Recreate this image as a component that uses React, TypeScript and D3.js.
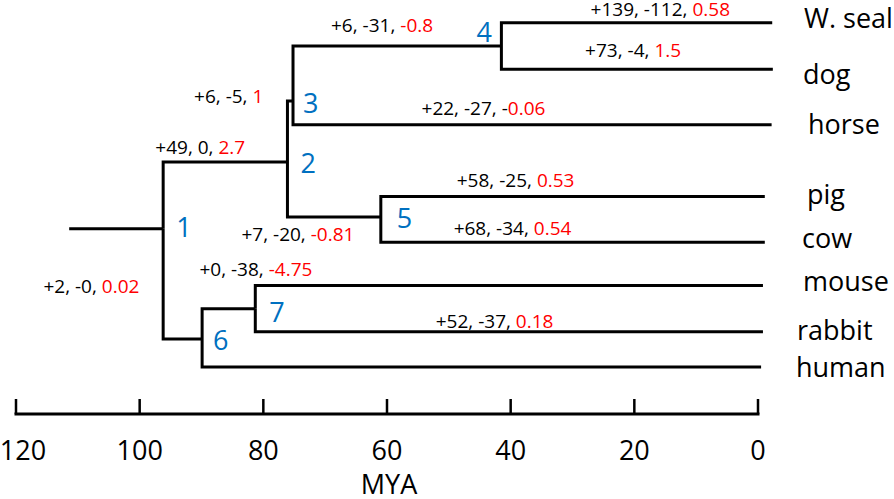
import React from "react";
import * as d3 from "d3";

// ---------- data ----------
const MYA_TICKS = [120, 100, 80, 60, 40, 20, 0];

const ROOT_AGE = 111.4;
const NODE_IDS = ["n1", "n2", "n3", "n4", "n5", "n6", "n7"];
const NODE_LABELS = ["1", "2", "3", "4", "5", "6", "7"];
const NODE_PARENTS = ["root", "n1", "n2", "n3", "n2", "n1", "n6"];
const NODE_AGES = [96.2, 76.1, 75.2, 41.5, 61.0, 89.9, 81.3];
const NODE_ROWS = [4.42, 2.99, 1.68, 0.5, 4.17, 6.79, 6.14];

const LEAF_NAMES = ["W. seal", "dog", "horse", "pig", "cow", "mouse", "rabbit", "human"];
const LEAF_PARENTS = ["n4", "n4", "n3", "n5", "n5", "n7", "n7", "n6"];
const LEAF_TIP_AGES = [-2.3, -2.4, -2.2, -1.1, -1.1, -0.8, -0.8, -0.5];
const LEAF_ROWS = [0, 1, 2.19, 3.73, 4.71, 5.64, 6.63, 7.39];

const ANNOT_GAIN = ["+49", "+2", "+6", "+7", "+6", "+22", "+139", "+73", "+58", "+68", "+0", "+52"];
const ANNOT_LOSS = ["0", "-0", "-5", "-20", "-31", "-27", "-112", "-4", "-25", "-34", "-38", "-37"];
const ANNOT_SCORE = ["2.7", "0.02", "1", "-0.81", "-0.8", "-0.06", "0.58", "1.5", "0.53", "0.54", "-4.75", "0.18"];

// ---------- layout (positions / styles) ----------
const ANNOT_AT_MYA = [90.2, 107.8, 85.6, 74.4, 60.8, 44.4, 15.8, 20.2, 39.2, 39.7, 81.2, 42.6];
const ANNOT_AT_ROW = [2.818, 5.807, 1.717, 4.678, 0.206, 1.981, -0.14, 0.742, 3.519, 4.556, 5.436, 6.558];
const ANNOT_BLACK_SIGN = [false, false, false, false, false, true, false, false, false, false, false, false];
const NODE_LABEL_DX = [13, 13, 10, -25, 16, 11, 14];
const NODE_LABEL_DY = [8, 11, 12, -4, 11, 11, 12.7];
const LEAF_LABEL_X = [804, 803, 808, 807, 802, 803, 797, 796];
const LEAF_LABEL_DY = [5.6, 14.7, 9.3, 7.7, 5.7, 5.3, 8.6, 10.4];
const TICK_LABEL_DX = [7, 0, 0, 0, 0, 0, 0];

const W = 894;
const H = 499;
const FONT = "'Open Sans', 'Liberation Sans', sans-serif";
const BLUE = "#0070C0";
const RED = "#FF0000";

export default function App() {
  const x = d3.scaleLinear().domain([120, 0]).range([16, 758]);
  const y = d3.scaleLinear().domain([0, 1]).range([22.7, 69.3]);
  const axisY = 414;

  const nodePos: Record<string, { x: number; y: number }> = {};
  NODE_IDS.forEach((id, i) => {
    nodePos[id] = { x: x(NODE_AGES[i]), y: y(NODE_ROWS[i]) };
  });

  const paths: string[] = [];
  // root stem
  paths.push(`M${x(ROOT_AGE)},${nodePos["n1"].y}H${nodePos["n1"].x}`);
  NODE_IDS.forEach((id, i) => {
    const p = NODE_PARENTS[i];
    if (p === "root") return;
    const pp = nodePos[p];
    const c = nodePos[id];
    paths.push(`M${pp.x},${pp.y}V${c.y}H${c.x}`);
  });
  LEAF_NAMES.forEach((_, i) => {
    const pp = nodePos[LEAF_PARENTS[i]];
    const cy = y(LEAF_ROWS[i]);
    paths.push(`M${pp.x},${pp.y}V${cy}H${x(LEAF_TIP_AGES[i])}`);
  });

  return (
    <svg
      width={W}
      height={H}
      style={{ position: "absolute", left: 0, top: 0, background: "#fff" }}
      fontFamily={FONT}
    >
      <rect width={W} height={H} fill="#fff" />
      {paths.map((d, i) => (
        <path key={i} d={d} fill="none" stroke="#000" strokeWidth={3} strokeLinejoin="miter" />
      ))}

      {NODE_IDS.map((id, i) => (
        <text
          key={id}
          x={nodePos[id].x + NODE_LABEL_DX[i]}
          y={nodePos[id].y + NODE_LABEL_DY[i]}
          fill={BLUE}
          fontSize={27}
        >
          {NODE_LABELS[i]}
        </text>
      ))}

      {ANNOT_GAIN.map((g, i) => {
        const s = ANNOT_SCORE[i];
        const blackSign = ANNOT_BLACK_SIGN[i] && s.startsWith("-");
        return (
          <text
            key={i}
            x={x(ANNOT_AT_MYA[i])}
            y={y(ANNOT_AT_ROW[i])}
            textAnchor="middle"
            fontSize={19}
            fill="#000"
          >
            {`${g}, ${ANNOT_LOSS[i]}, ${blackSign ? "-" : ""}`}
            <tspan fill={RED}>{blackSign ? s.slice(1) : s}</tspan>
          </text>
        );
      })}

      {LEAF_NAMES.map((n, i) => (
        <text key={n} x={LEAF_LABEL_X[i]} y={y(LEAF_ROWS[i]) + LEAF_LABEL_DY[i]} fontSize={27} fill="#000">
          {n}
        </text>
      ))}

      {/* axis */}
      <line x1={x(120)} x2={x(0)} y1={axisY} y2={axisY} stroke="#000" strokeWidth={3} strokeLinecap="square" />
      {MYA_TICKS.map((t, i) => (
        <g key={t}>
          <line x1={x(t)} x2={x(t)} y1={axisY} y2={axisY - 15} stroke="#000" strokeWidth={2.5} />
          <text x={x(t) + TICK_LABEL_DX[i]} y={460} textAnchor="middle" fontSize={27} fill="#000">
            {t}
          </text>
        </g>
      ))}
      <text x={389} y={494} textAnchor="middle" fontSize={27} fill="#000">
        MYA
      </text>
    </svg>
  );
}
